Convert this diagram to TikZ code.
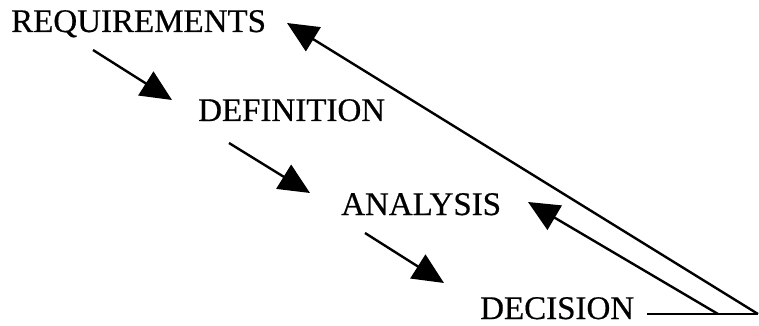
\documentclass[tikz,border=0pt]{standalone}
\usepackage{fontspec}
\setmainfont{Liberation Serif}[FakeBold=0.5]
\usetikzlibrary{arrows.meta}
\begin{document}
\begin{tikzpicture}[x=1pt,y=-1pt,
  lbl/.style={anchor=base west,inner sep=0pt,font=\fontsize{33}{36}\selectfont},
  conn/.style={line width=2.4pt},
  arr/.style={conn,-{Triangle[length=31pt,width=28pt]}}]
\useasboundingbox (0,0) rectangle (759,326);
\node[lbl] (req) at (11,32) {REQUIREMENTS};
\node[lbl] (def) at (198,121) {DEFINITION};
\node[lbl] (ana) at (341,215) {ANALYSIS};
\node[lbl] (dec) at (480,319) {DECISION};
\coordinate (a1s) at (93,50);
\coordinate (a1e) at (172,100);
\coordinate (a2s) at (229,143);
\coordinate (a2e) at (310,193);
\coordinate (a3s) at (365,233);
\coordinate (a3e) at (444,283);
\coordinate (dl) at (647,314);
\coordinate (corner) at (758,314);
\coordinate (mid) at (718,314);
\coordinate (anatip) at (528,202);
\coordinate (reqtip) at (287,23);
\draw[arr] (a1s) -- (a1e);
\draw[arr] (a2s) -- (a2e);
\draw[arr] (a3s) -- (a3e);
\draw[conn] (dl) -- (corner);
\draw[arr] (mid) -- (anatip);
\draw[arr] (corner) -- (reqtip);
\end{tikzpicture}
\end{document}
